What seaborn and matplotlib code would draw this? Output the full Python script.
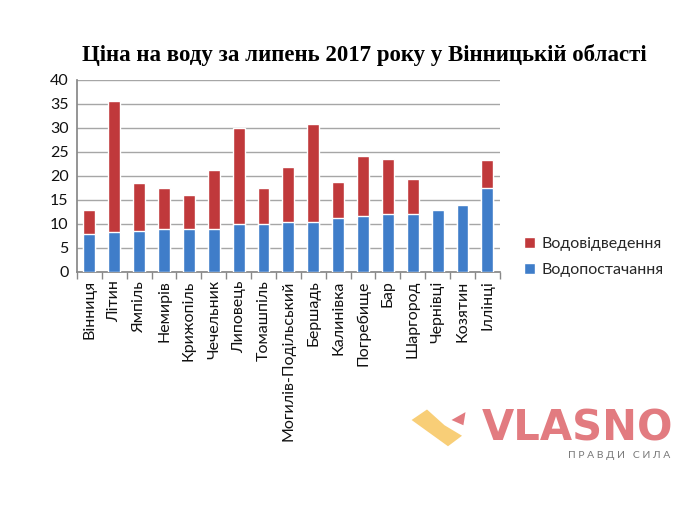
import numpy as np
import pandas as pd
import matplotlib
matplotlib.use("Agg")
import matplotlib.pyplot as plt
import seaborn as sns
from matplotlib.patches import Patch, Polygon

# Data
towns = ["Вінниця", "Літин", "Ямпіль", "Немирів", "Крижопіль", "Чечельник",
         "Липовець", "Томашпіль", "Могилів-Подільський", "Бершадь", "Калинівка",
         "Погребище", "Бар", "Шаргород", "Чернівці", "Козятин", "Іллінці"]
supply = [7.9, 8.3, 8.6, 8.9, 8.9, 9.0, 10.0, 10.0, 10.3, 10.5, 11.2,
          11.7, 12.0, 12.0, 13.0, 14.0, 17.5]
sewage = [5.0, 27.2, 10.0, 8.6, 7.1, 12.2, 20.0, 7.5, 11.6, 20.3, 7.6,
          12.5, 11.6, 7.3, 0.0, 0.0, 5.9]

df = pd.DataFrame({"town": towns, "supply": supply, "sewage": sewage})
df["total"] = df["supply"] + df["sewage"]

red = "#C0393B"
blue = "#3F7DC9"

sns.set_theme(style="white")
plt.rcParams["font.family"] = ["Lato", "DejaVu Sans"]

fig = plt.figure(figsize=(7, 5.25), dpi=100)
ax = fig.add_axes([0.11, 0.482, 0.604, 0.366])

sns.barplot(data=df, x="town", y="total", color=red, width=0.48,
            saturation=1, ax=ax, zorder=2)
sns.barplot(data=df, x="town", y="supply", color=blue, width=0.48,
            saturation=1, ax=ax, zorder=3)

ax.set_ylim(0, 40)
ax.set_xlim(-0.5, len(towns) - 0.5)
ax.set_yticks(range(0, 41, 5))
ax.yaxis.grid(True, color="#A6A6A6", linewidth=1, zorder=0)
ax.set_axisbelow(True)
ax.set_xlabel("")
ax.set_ylabel("")
ax.tick_params(axis="y", labelsize=11.5, length=0, pad=6, labelcolor="#111111")
ax.tick_params(axis="x", labelsize=11.5, length=0, rotation=90, pad=6,
               labelcolor="#111111")
ax.set_xticks(np.arange(-0.5, len(towns)), minor=True)
ax.tick_params(axis="x", which="minor", length=5, color="#888888",
               direction="out", bottom=True)
for side in ["top", "right"]:
    ax.spines[side].set_visible(False)
for side in ["left", "bottom"]:
    ax.spines[side].set_color("#888888")

handles = [Patch(facecolor=red, label="Водовідведення"),
           Patch(facecolor=blue, label="Водопостачання")]
fig.legend(handles=handles, loc="upper left", bbox_to_anchor=(0.728, 0.576),
           frameon=False, fontsize=11.5, handlelength=0.7, handleheight=0.7,
           handletextpad=0.4, labelspacing=0.75)

fig.text(0.521, 0.895, "Ціна на воду за липень 2017 року у Вінницькій області",
         ha="center", va="center", fontsize=16.5, fontweight="bold",
         family="Liberation Serif", color="black")

# logo
fig.text(0.962, 0.183, "VLASNO", ha="right", va="center", fontsize=30,
         fontweight="bold", color="#E27B80", family="DejaVu Sans")
fig.text(0.958, 0.133, "П Р А В Д И   С И Л А", ha="right", va="center",
         fontsize=7.5, color="#777777")
fig.patches.append(Polygon([[0.588, 0.2], [0.61, 0.22], [0.635, 0.19],
                            [0.66, 0.17], [0.64, 0.15]],
                           closed=True, transform=fig.transFigure,
                           facecolor="#F8CE77", edgecolor="none"))
fig.patches.append(Polygon([[0.645, 0.2], [0.665, 0.215], [0.662, 0.19]],
                           closed=True, transform=fig.transFigure,
                           facecolor="#E27B80", edgecolor="none"))

fig.savefig("out.png", dpi=100)
